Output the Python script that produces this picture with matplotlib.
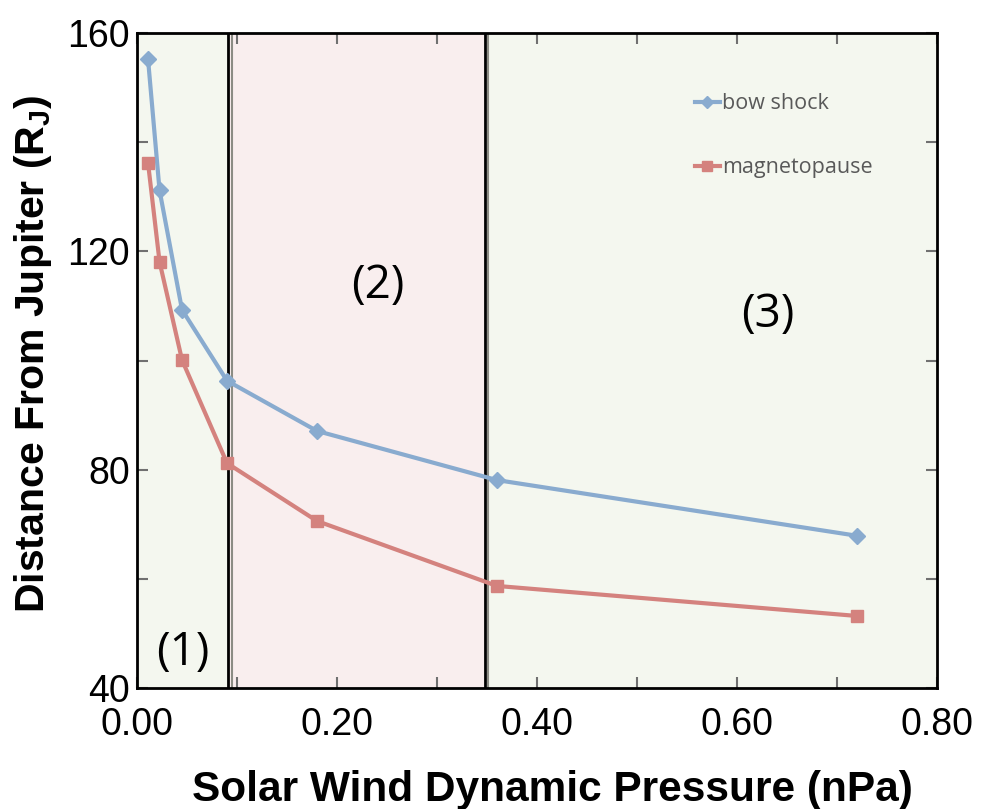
import matplotlib.pyplot as plt
from matplotlib.ticker import MultipleLocator, FormatStrFormatter

pressure = [0.011, 0.0225, 0.045, 0.09, 0.18, 0.36, 0.72]
bow_shock = [155.2, 131.2, 109.3, 96.3, 87.1, 78.1, 67.9]
magnetopause = [136.2, 118.1, 100.1, 81.2, 70.6, 58.7, 53.2]
boundaries = [0.091, 0.348]
region_labels = ['(1)', '(2)', '(3)']

green_bg = '#f4f7ef'
pink_bg = '#f9eeee'

fig = plt.figure(figsize=(9.86, 8.09), dpi=100)
ax = fig.add_axes([0.139, 0.1496, 0.811, 0.8094])
ax.set_xlim(0, 0.8)
ax.set_ylim(40, 160)

# background regions
ax.axvspan(0, boundaries[0], color=green_bg, zorder=0)
ax.axvspan(boundaries[0], boundaries[1], color=pink_bg, zorder=0)
ax.axvspan(boundaries[1], 0.8, color=green_bg, zorder=0)
for b in boundaries:
    ax.axvline(b, color='black', lw=2, zorder=1)
    ax.axvline(b + 0.0035, color='#8c8c84', lw=1.5, zorder=1)

ax.plot(pressure, bow_shock, color='#89abcf', lw=3, marker='D', ms=8,
        label='bow shock', zorder=3)
ax.plot(pressure, magnetopause, color='#d4827e', lw=3, marker='s', ms=9,
        label='magnetopause', zorder=3)

# region labels
txt = dict(fontsize=33, family='Open Sans', color='black', ha='center', va='center')
ax.text(0.046, 46.5, region_labels[0], **txt)
ax.text(0.241, 113.6, region_labels[1], **txt)
ax.text(0.631, 108.3, region_labels[2], **txt)

leg = ax.legend(loc='upper left', bbox_to_anchor=(0.684, 0.925), frameon=False,
                prop={'family': 'Open Sans', 'size': 15.5}, labelspacing=2.0,
                handlelength=1.15, handletextpad=0.1, borderpad=0,
                markerscale=0.8)
for t in leg.get_texts():
    t.set_color('#595959')

ax.xaxis.set_major_locator(MultipleLocator(0.2))
ax.xaxis.set_minor_locator(MultipleLocator(0.1))
ax.yaxis.set_major_locator(MultipleLocator(40))
ax.yaxis.set_minor_locator(MultipleLocator(20))
ax.xaxis.set_major_formatter(FormatStrFormatter('%.2f'))
ax.tick_params(which='both', direction='in', top=True, right=True,
               length=8, width=1.5, color='#707070')
ax.tick_params(which='major', labelsize=27)
ax.tick_params(axis='x', which='major', pad=14)
ax.tick_params(axis='y', which='major', pad=5)
for lab in ax.get_xticklabels() + ax.get_yticklabels():
    lab.set_family('Liberation Sans')

for s in ax.spines.values():
    s.set_linewidth(2)
    s.set_zorder(5)

ax.set_xlabel('Solar Wind Dynamic Pressure (nPa)', fontsize=30.5,
              fontweight='bold', family='Liberation Sans')
ax.xaxis.set_label_coords(0.519, -0.125)
ax.set_ylabel('Distance From Jupiter (R$_\\mathregular{J}$)', fontsize=29.5,
              fontweight='bold', family='Liberation Sans')
ax.yaxis.set_label_coords(-0.104, 0.51)

fig.savefig('out.png', dpi=100)
